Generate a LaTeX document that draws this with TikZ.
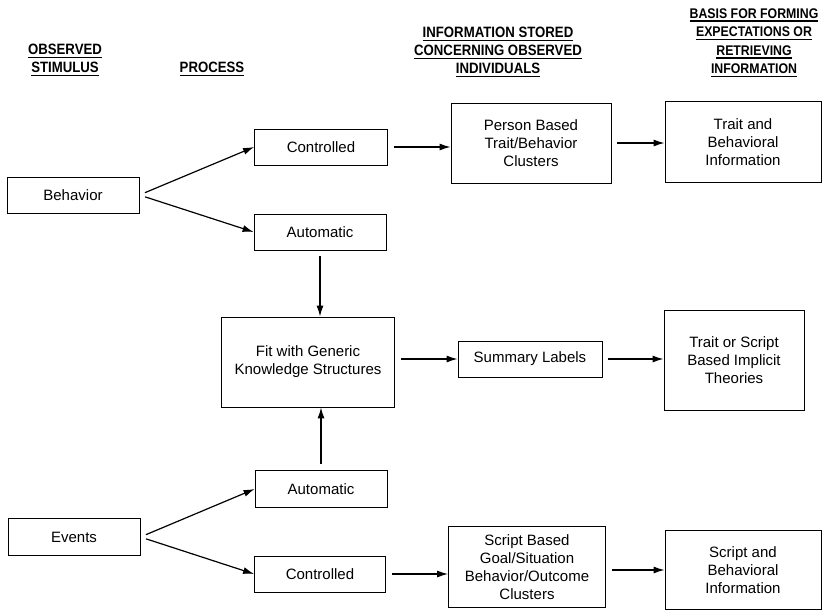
\documentclass[tikz,border=0pt]{standalone}
\usepackage{fontspec}
\usepackage{tikz}
\usetikzlibrary{arrows.meta}
\usetikzlibrary{calc,positioning}
\setmainfont{Liberation Sans}
\newfontfamily\headfont[FakeStretch=0.88]{Liberation Sans}
\newcommand{\hul}[1]{\setbox0\hbox{#1}\leavevmode\rlap{\vrule width \wd0 height -2.2pt depth 3.7pt}\box0}

\begin{document}
\begin{tikzpicture}[x=1pt, y=-1pt,
  box/.style = {rectangle, draw, align=center, inner sep=2pt, font=\fontsize{15}{18}\selectfont},
  head/.style = {align=center, inner sep=0, font=\headfont\bfseries\fontsize{15}{18}\selectfont},
  link/.style = {-{Latex[length=11pt,width=7pt]}, line width=1.2pt, shorten <=6pt}]
\useasboundingbox (0,0) rectangle (823,614);
\tikzset{every path/.append style={line width=0.8pt}}

% column heads
\node[head](obs) at (65,60){\hul{OBSERVED}\\\hul{STIMULUS}};
\node[head](proc) at (212,69){\hul{PROCESS}};
\node[head](stored) at (498,52){\hul{INFORMATION STORED}\\\hul{CONCERNING OBSERVED}\\\hul{INDIVIDUALS}};
\node[head, font=\headfont\bfseries\fontsize{14}{18.5}\selectfont](basis) at (754,43){\hul{BASIS FOR FORMING}\\\hul{EXPECTATIONS OR}\\\hul{RETRIEVING}\\\hul{INFORMATION}};

% behavior row
\node[box, minimum width=132, minimum height=36](beh) at (73,195){Behavior};
\node[box, minimum width=133, minimum height=36](ctrlA) at (321,147){Controlled};
\node[box, minimum width=132, minimum height=36](autoA) at (320,232){Automatic};
\node[box, minimum width=160, minimum height=80](person) at (531,143){Person Based\\Trait/Behavior\\Clusters};
\node[box, minimum width=156, minimum height=81](traitinfo) at (743,142){Trait and\\Behavioral\\Information};

% middle row
\node[box, minimum width=173, minimum height=90](fit) at (308,362){Fit with Generic\\Knowledge Structures};
\node[box, minimum width=144, minimum height=36](summary) at (530,359){Summary Labels};
\node[box, minimum width=140, minimum height=100](implicit) at (734,360){Trait or Script\\Based Implicit\\Theories};

% events row
\node[box, minimum width=132, minimum height=37](autoB) at (321,489){Automatic};
\node[box, minimum width=132, minimum height=37](events) at (74,537){Events};
\node[box, minimum width=131, minimum height=36](ctrlB) at (320,574){Controlled};
\node[box, minimum width=157, minimum height=81](script) at (527,567){Script Based\\Goal/Situation\\Behavior/Outcome\\Clusters};
\node[box, minimum width=156, minimum height=79](scriptinfo) at (743,570){Script and\\Behavioral\\Information};

\draw [link] (beh.east) to (ctrlA.west);
\draw [link] (beh.east) to (autoA.west);
\draw [link] (ctrlA.east) to (ctrlA.east -| person.west);
\draw [link] (person) to (traitinfo.west |- person);
\draw [link] (autoA.south) to (autoA.south |- fit.north);
\draw [link] (autoB.north) to (autoB.north |- fit.south);
\draw [link] (fit.east |- summary) to (summary);
\draw [link] (summary) to (implicit.west |- summary);
\draw [link] (events.east) to (autoB.west);
\draw [link] (events.east) to (ctrlB.west);
\draw [link] (ctrlB) to (script.west |- ctrlB);
\draw [link] (script.east |- scriptinfo) to (scriptinfo);

\end{tikzpicture}
\end{document}
